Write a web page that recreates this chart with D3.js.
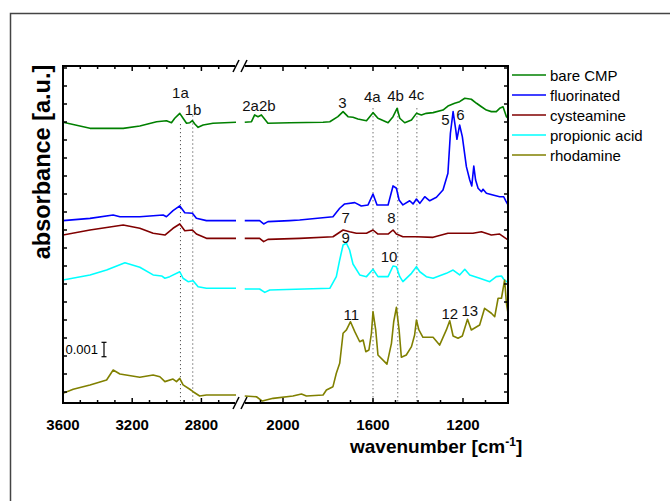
<!DOCTYPE html>
<html>
<head>
<meta charset="utf-8">
<script src="https://cdn.jsdelivr.net/npm/d3@7"></script>
<style>
  body { margin: 0; background: #fff; }
  text { font-family: "Liberation Sans", Arial, Helvetica, sans-serif; }
</style>
</head>
<body>
<script>
'use strict';

// spectra: [wavenumber cm-1, offset absorbance in 0.001 a.u.]
var bareCMP = [[3600,18.73],[3444,18.31],[3252,18.31],[3156,18.47],[3059,18.77],[3002,18.84],[2973,18.70],[2954,19.01],[2925,19.35],[2902,18.94],[2886,18.66],[2867,18.70],[2852,18.84],[2838,18.61],[2819,18.38],[2790,18.54],[2733,18.66],[2600,18.73],
  [2170,18.73],[2140,18.77],[2126,19.24],[2111,19.12],[2096,19.24],[2067,18.66],[1970,18.70],[1822,18.73],[1792,18.77],[1756,19.12],[1733,19.47],[1711,19.12],[1689,19.08],[1667,18.96],[1629,18.84],[1600,19.40],[1578,19.01],[1533,18.70],[1511,19.12],[1493,19.70],[1481,19.01],[1459,18.70],[1429,18.89],[1407,19.35],[1385,19.24],[1363,19.35],[1333,19.40],[1289,19.58],[1267,19.86],[1237,20.05],[1215,20.16],[1192,20.40],[1163,20.33],[1140,20.05],[1118,19.81],[1096,19.58],[1074,19.47],[1052,19.47],[1037,19.70],[1022,19.81],[1007,19.12],[1000,19.01]];

var fluorinated = [[3600,11.90],[3444,12.06],[3310,12.29],[3271,12.17],[3156,12.17],[3021,12.29],[3002,12.17],[2964,12.59],[2925,12.92],[2896,12.45],[2852,12.41],[2829,12.06],[2771,11.90],[2600,11.90],
  [2170,11.90],[2104,11.90],[2086,11.67],[2067,11.83],[1970,11.90],[1926,11.94],[1778,12.17],[1748,12.76],[1726,13.06],[1681,13.15],[1652,12.92],[1622,12.99],[1600,13.75],[1582,12.99],[1533,12.99],[1511,14.31],[1496,14.15],[1484,13.33],[1467,12.99],[1437,13.28],[1422,13.06],[1407,13.40],[1392,13.10],[1370,13.56],[1348,13.28],[1318,13.52],[1289,14.03],[1267,15.19],[1256,17.97],[1244,19.47],[1232,18.19],[1227,17.55],[1215,18.54],[1203,17.73],[1185,15.65],[1170,14.72],[1161,14.31],[1152,15.69],[1144,14.72],[1133,14.15],[1118,13.91],[1111,14.08],[1096,13.80],[1067,13.68],[1037,13.56],[1019,13.56],[1010,13.28],[1000,12.99]];

var cysteamine = [[3600,10.90],[3444,11.25],[3252,11.60],[3156,11.37],[3079,11.02],[3011,10.90],[2964,11.37],[2925,11.67],[2896,11.20],[2852,11.25],[2829,10.97],[2771,10.67],[2600,10.67],
  [2170,10.67],[2104,10.67],[2086,10.44],[2067,10.60],[1926,10.67],[1778,10.78],[1733,11.25],[1704,11.13],[1674,11.02],[1629,11.02],[1600,11.25],[1578,10.97],[1533,10.97],[1511,11.25],[1496,10.97],[1467,10.78],[1407,10.78],[1333,10.74],[1267,11.02],[1215,11.02],[1156,11.02],[1118,11.13],[1074,10.90],[1037,10.97],[1000,10.56]];

var propionicAcid = [[3600,7.78],[3444,8.13],[3348,8.47],[3242,8.98],[3156,8.66],[3079,8.13],[3030,8.06],[3011,7.90],[2983,8.01],[2925,8.35],[2906,7.90],[2877,7.66],[2848,7.73],[2819,7.31],[2771,7.20],[2600,7.20],
  [2170,7.15],[2104,7.15],[2081,6.92],[2059,7.08],[1792,7.20],[1763,8.01],[1748,9.17],[1733,10.21],[1718,10.33],[1704,9.86],[1689,8.89],[1659,8.13],[1629,8.01],[1600,8.52],[1578,8.01],[1533,8.01],[1511,8.75],[1496,8.70],[1481,8.01],[1467,7.66],[1444,8.01],[1429,8.24],[1407,8.70],[1392,8.35],[1363,8.01],[1333,7.90],[1274,8.24],[1244,8.47],[1215,8.13],[1192,8.52],[1170,8.13],[1126,7.90],[1081,7.66],[1052,8.01],[1029,8.06],[1019,7.83],[1000,7.59]];

var rhodamine = [[3600,-0.09],[3541,0.19],[3444,0.49],[3348,0.83],[3310,1.53],[3271,1.25],[3156,1.02],[3079,1.18],[3040,1.06],[3011,0.72],[2964,0.90],[2944,0.72],[2925,0.95],[2906,0.49],[2867,0.19],[2848,0.02],[2810,-0.28],[2771,-0.21],[2600,-0.21],
  [2170,-0.28],[2118,-0.33],[2092,-0.63],[2044,-0.44],[1956,-0.28],[1918,-0.14],[1896,-0.28],[1822,-0.21],[1807,0.14],[1778,0.37],[1763,1.30],[1748,1.99],[1733,4.08],[1718,4.31],[1700,4.88],[1681,4.19],[1659,3.49],[1644,3.61],[1632,2.80],[1618,2.92],[1607,4.08],[1600,5.58],[1588,4.31],[1578,2.57],[1538,1.94],[1518,3.38],[1508,4.88],[1496,5.88],[1484,4.31],[1474,2.41],[1452,2.57],[1429,3.15],[1415,3.96],[1407,5.00],[1396,4.31],[1378,3.80],[1333,3.80],[1304,3.26],[1274,4.31],[1259,4.95],[1244,3.89],[1222,3.73],[1203,3.89],[1180,5.05],[1163,4.31],[1126,4.65],[1104,5.81],[1074,5.47],[1059,5.23],[1044,6.51],[1029,6.51],[1015,7.78],[1007,6.16],[1000,5.47]];

var seriesNames = ['bare CMP', 'fluorinated', 'cysteamine', 'propionic acid', 'rhodamine'];
var seriesColors = ['#008000', '#0000ff', '#800000', '#00ffff', '#808000'];
var seriesData = [bareCMP, fluorinated, cysteamine, propionicAcid, rhodamine];

// peak labels: [text, wavenumber, absorbance position]
var peakLabels = [['1a',2921,20.78],['1b',2848,19.63],['2a2b',2107,19.93],['3',1736,20.09],['4a',1603,20.51],['4b',1500,20.56],['4c',1407,20.63],
  ['5',1278,18.89],['6',1212,19.24],['7',1721,12.13],['8',1518,12.13],['9',1721,10.74],['10',1529,9.40],['11',1696,5.35],['12',1259,5.47],['13',1170,5.65]];

// dotted guide lines: [wavenumber, top absorbance]
var guideLines = [[2921,18.6],[2850,19.2],[1600,19.7],[1490,19.7],[1405,19.7]];

var xMajorTicks = [3600, 3200, 2800, 2000, 1600, 1200];
var leftTicks = d3.range(3600, 2650, -100);
var rightTicks = d3.range(2100, 999, -100);
var yTicks = d3.range(0, 22.6, 1.25);
var scaleBar = { w: 3363, from: 2.45, size: 1.0, label: '0.001' };

var width = 670, height = 501;
var plotLeft = 63, plotRight = 508, plotTop = 66, plotBottom = 403;
var breakX = 240;

var svg = d3.select('body').append('svg')
    .attr('width', width)
    .attr('height', height);

// outer frame (runs off the page on right and bottom)
svg.append('rect')
    .attr('x', 10.5).attr('y', 13.5)
    .attr('width', 700).attr('height', 600)
    .attr('fill', 'none')
    .attr('stroke', '#444')
    .attr('stroke-width', 1.5);

var xLeft = d3.scaleLinear().domain([3600, 2600]).range([plotLeft, 236]);
var xRight = d3.scaleLinear().domain([2200, 1000]).range([238, plotRight]);
function xPos(w) { return w > 2400 ? xLeft(w) : xRight(w); }
var y = d3.scaleLinear().domain([0, 22.5]).range([392, 68]);

svg.append('clipPath').attr('id', 'clip')
    .append('rect')
    .attr('x', plotLeft).attr('y', plotTop)
    .attr('width', plotRight - plotLeft).attr('height', plotBottom - plotTop);

// guide lines
svg.append('g').selectAll('line')
    .data(guideLines)
    .enter().append('line')
    .attr('x1', d => xPos(d[0])).attr('x2', d => xPos(d[0]))
    .attr('y1', d => y(d[1])).attr('y2', plotBottom)
    .attr('stroke', '#333')
    .attr('stroke-width', 1)
    .attr('stroke-dasharray', '1,3');

// spectra
var line = d3.line().x(d => xPos(d[0])).y(d => y(d[1]));
var g = svg.append('g').attr('clip-path', 'url(#clip)');
seriesData.forEach(function(data, i) {
    var parts = [data.filter(d => d[0] > 2400), data.filter(d => d[0] <= 2400)];
    parts.forEach(function(p) {
        g.append('path')
            .attr('d', line(p))
            .attr('fill', 'none')
            .attr('stroke', seriesColors[i])
            .attr('stroke-width', 1.6)
            .attr('stroke-linejoin', 'round');
    });
});

// axes box
var axes = svg.append('g').attr('stroke', '#000').attr('stroke-width', 2);
axes.append('line').attr('x1', plotLeft).attr('x2', plotLeft).attr('y1', plotTop - 1).attr('y2', plotBottom + 1);
axes.append('line').attr('x1', plotRight).attr('x2', plotRight).attr('y1', plotTop - 1).attr('y2', plotBottom + 1);
[plotTop, plotBottom].forEach(function(yy) {
    axes.append('line').attr('x1', plotLeft).attr('x2', breakX - 5).attr('y1', yy).attr('y2', yy);
    axes.append('line').attr('x1', breakX + 5).attr('x2', plotRight).attr('y1', yy).attr('y2', yy);
    axes.append('line').attr('x1', breakX - 7).attr('x2', breakX - 1).attr('y1', yy + 6).attr('y2', yy - 6).attr('stroke-width', 1.5);
    axes.append('line').attr('x1', breakX + 1).attr('x2', breakX + 7).attr('y1', yy + 6).attr('y2', yy - 6).attr('stroke-width', 1.5);
});

// x ticks
var xt = leftTicks.map(w => [w, xLeft(w)]).concat(rightTicks.map(w => [w, xRight(w)]));
var tickG = svg.append('g').attr('stroke', '#000').attr('stroke-width', 1.5);
xt.forEach(function(t) {
    var len = xMajorTicks.indexOf(t[0]) >= 0 ? 5 : 3;
    tickG.append('line').attr('x1', t[1]).attr('x2', t[1]).attr('y1', plotBottom).attr('y2', plotBottom - len);
    tickG.append('line').attr('x1', t[1]).attr('x2', t[1]).attr('y1', plotTop).attr('y2', plotTop + len);
});
yTicks.forEach(function(v) {
    tickG.append('line').attr('x1', plotLeft).attr('x2', plotLeft + 4).attr('y1', y(v)).attr('y2', y(v));
    tickG.append('line').attr('x1', plotRight).attr('x2', plotRight - 4).attr('y1', y(v)).attr('y2', y(v));
});

svg.append('g').selectAll('text')
    .data(xMajorTicks)
    .enter().append('text')
    .attr('x', d => xPos(d))
    .attr('y', 430)
    .attr('text-anchor', 'middle')
    .style('font-size', '15px')
    .style('font-weight', 'bold')
    .text(d => d);

// axis titles
var xt2 = svg.append('text')
    .attr('x', 350).attr('y', 453)
    .style('font-size', '19px')
    .style('font-weight', 'bold')
    .text('wavenumber [cm');
xt2.append('tspan').attr('dy', -7).style('font-size', '12px').text('-1');
xt2.append('tspan').attr('dy', 7).text(']');

svg.append('text')
    .attr('transform', 'translate(50,162) rotate(-90)')
    .attr('text-anchor', 'middle')
    .style('font-size', '23.5px')
    .style('font-weight', 'bold')
    .text('absorbance [a.u.]');

// peak labels
svg.append('g').selectAll('text')
    .data(peakLabels)
    .enter().append('text')
    .attr('x', d => xPos(d[1]))
    .attr('y', d => y(d[2]))
    .attr('text-anchor', 'middle')
    .attr('dominant-baseline', 'central')
    .attr('fill', '#111')
    .style('font-size', '15px')
    .text(d => d[0]);

// scale bar
var sb = svg.append('g').attr('stroke', '#000').attr('stroke-width', 1.2);
var sbx = xPos(scaleBar.w);
sb.append('line').attr('x1', sbx).attr('x2', sbx).attr('y1', y(scaleBar.from)).attr('y2', y(scaleBar.from + scaleBar.size));
sb.append('line').attr('x1', sbx - 2.5).attr('x2', sbx + 2.5).attr('y1', y(scaleBar.from)).attr('y2', y(scaleBar.from));
sb.append('line').attr('x1', sbx - 2.5).attr('x2', sbx + 2.5).attr('y1', y(scaleBar.from + scaleBar.size)).attr('y2', y(scaleBar.from + scaleBar.size));
svg.append('text')
    .attr('x', sbx - 6)
    .attr('y', y(scaleBar.from + scaleBar.size / 2))
    .attr('text-anchor', 'end')
    .attr('dominant-baseline', 'central')
    .style('font-size', '13px')
    .text(scaleBar.label);

// legend
var legend = svg.append('g').selectAll('g')
    .data(seriesNames)
    .enter().append('g')
    .attr('transform', (d, i) => 'translate(512,' + (75 + i * 20) + ')');
legend.append('line')
    .attr('x1', 0).attr('x2', 34)
    .attr('stroke', (d, i) => seriesColors[i])
    .attr('stroke-width', 1.6);
legend.append('text')
    .attr('x', 38)
    .attr('dominant-baseline', 'central')
    .style('font-size', '15px')
    .text(d => d);
</script>
</body>
</html>
